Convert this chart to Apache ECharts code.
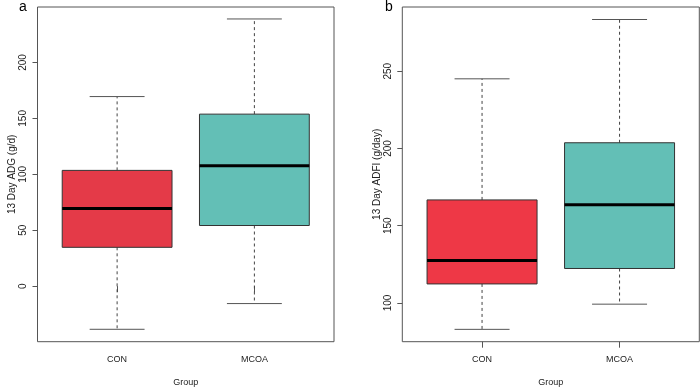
<!DOCTYPE html>
<html>
<head>
<meta charset="utf-8">
<script src="https://cdn.jsdelivr.net/npm/echarts@6/dist/echarts.min.js"></script>
<style>
    html, body { margin: 0; padding: 0; background: #fff; }
    #chart { width: 700px; height: 387px; }
</style>
</head>
<body>
<div id="chart"></div>
<script>
// groups on the x axis (positions 1 and 2, as in R's boxplot)
const groups = ['CON', 'MCOA']
const groupPos = [1, 2]

// five-number summaries: [lower whisker, Q1, median, Q3, upper whisker]
const adgCon = [-38.6, 34.7, 69.4, 103.5, 169.5]
const adgMcoa = [-15.6, 54.2, 107.7, 153.8, 238.9]
const adfiCon = [82.9, 112.3, 127.5, 166.7, 245.1]
const adfiMcoa = [99.2, 122.3, 163.6, 203.7, 283.5]

// tick labels
const adgTicks = [0, 50, 100, 150, 200]
const adfiTicks = [100, 150, 200, 250]

const FONT = "'Liberation Sans', Arial, sans-serif"
const TEXT = '#222'
const FRAME = '#555'

const chart = echarts.init(document.getElementById('chart'), null, { renderer: 'canvas' })

const renderBox = (fills) => (params, api) => {
    const x = api.value(0)
    const lo = api.coord([x, api.value(1)])
    const q1 = api.coord([x, api.value(2)])
    const med = api.coord([x, api.value(3)])
    const q3 = api.coord([x, api.value(4)])
    const hi = api.coord([x, api.value(5)])
    const halfBox = api.size([0.4, 0])[0]
    const halfCap = api.size([0.2, 0])[0]
    const cx = med[0]
    const dashed = { stroke: '#444', lineWidth: 1, lineDash: [3, 3] }
    const solid = { stroke: FRAME, lineWidth: 1 }
    return {
        type: 'group',
        children: [
            { type: 'line', shape: { x1: cx, y1: q3[1], x2: cx, y2: hi[1] }, style: dashed },
            { type: 'line', shape: { x1: cx, y1: q1[1], x2: cx, y2: lo[1] }, style: dashed },
            { type: 'line', shape: { x1: cx - halfCap, y1: hi[1], x2: cx + halfCap, y2: hi[1] }, style: solid },
            { type: 'line', shape: { x1: cx - halfCap, y1: lo[1], x2: cx + halfCap, y2: lo[1] }, style: solid },
            {
                type: 'rect',
                shape: { x: cx - halfBox, y: q3[1], width: halfBox * 2, height: q1[1] - q3[1] },
                style: { fill: fills[params.dataIndex], stroke: '#333', lineWidth: 1 },
            },
            { type: 'line', shape: { x1: cx - halfBox, y1: med[1], x2: cx + halfBox, y2: med[1] }, style: { stroke: '#000', lineWidth: 3 } },
        ],
    }
}

const xAxisFor = (gridIndex) => ({
    gridIndex,
    type: 'value',
    min: 0.42,
    max: 2.58,
    name: 'Group',
    nameLocation: 'middle',
    nameGap: 36,
    nameTextStyle: { color: TEXT, fontFamily: FONT, fontSize: 9 },
    axisLine: { show: false },
    splitLine: { show: false },
    axisTick: { show: true, length: 6, customValues: groupPos, lineStyle: { color: FRAME } },
    axisLabel: {
        customValues: groupPos,
        margin: 13,
        color: TEXT,
        fontFamily: FONT,
        fontSize: 9,
        formatter: (v) => groups[groupPos.indexOf(Math.round(v))] || '',
    },
})

const yAxisFor = (gridIndex, min, max, ticks, name) => ({
    gridIndex,
    type: 'value',
    min,
    max,
    name,
    nameLocation: 'middle',
    nameRotate: 90,
    nameGap: 20,
    nameTextStyle: { color: TEXT, fontFamily: FONT, fontSize: 10 },
    axisLine: { show: false },
    splitLine: { show: false },
    axisTick: { show: true, length: 5, customValues: ticks, lineStyle: { color: FRAME } },
    axisLabel: {
        customValues: ticks,
        rotate: 90,
        margin: 9,
        color: TEXT,
        fontFamily: FONT,
        fontSize: 10,
    },
})

const gridBase = {
    top: 7,
    height: 334.7,
    show: true,
    borderColor: FRAME,
    borderWidth: 1,
    backgroundColor: 'transparent',
    outerBoundsMode: 'none',
    containLabel: false,
}

chart.setOption({
    animation: false,
    title: [
        { text: 'a', left: 19, top: 0, padding: 0, textStyle: { fontFamily: FONT, fontSize: 14, fontWeight: 'normal', color: '#000' } },
        { text: 'b', left: 385, top: 0, padding: 0, textStyle: { fontFamily: FONT, fontSize: 14, fontWeight: 'normal', color: '#000' } },
    ],
    grid: [
        { ...gridBase, left: 37.5, width: 296.5 },
        { ...gridBase, left: 402.3, width: 297 },
    ],
    xAxis: [xAxisFor(0), xAxisFor(1)],
    yAxis: [
        yAxisFor(0, -49.7, 249.6, adgTicks, '13 Day ADG (g/d)'),
        yAxisFor(1, 74.9, 291.6, adfiTicks, '13 Day ADFI (g/day)'),
    ],
    series: [
        {
            type: 'custom',
            xAxisIndex: 0,
            yAxisIndex: 0,
            renderItem: renderBox(['#E43A48', '#63BFB6']),
            data: [[groupPos[0], ...adgCon], [groupPos[1], ...adgMcoa]],
        },
        {
            type: 'custom',
            xAxisIndex: 1,
            yAxisIndex: 1,
            renderItem: renderBox(['#EE3846', '#63BFB6']),
            data: [[groupPos[0], ...adfiCon], [groupPos[1], ...adfiMcoa]],
        },
    ],
})
</script>
</body>
</html>
